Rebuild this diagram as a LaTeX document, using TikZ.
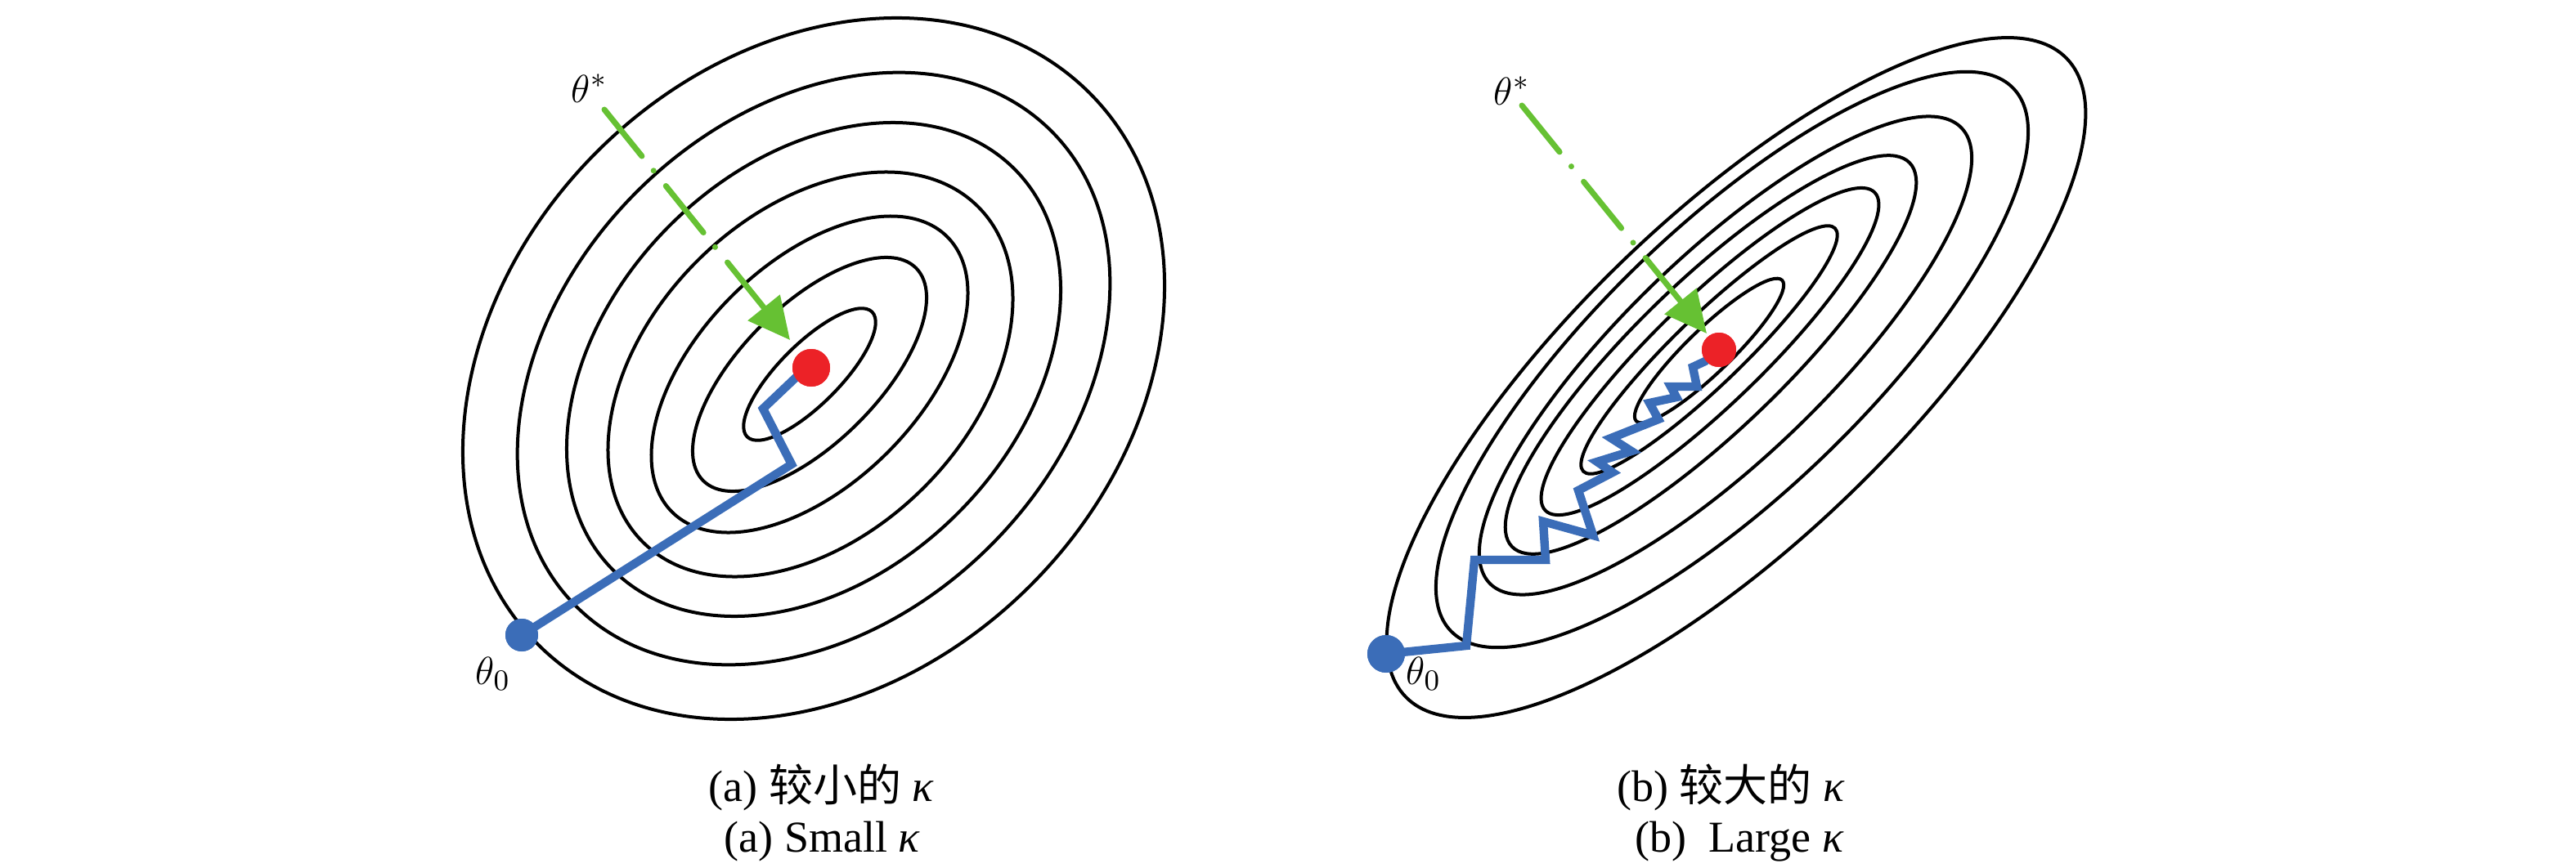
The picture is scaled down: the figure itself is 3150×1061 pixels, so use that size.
\documentclass[tikz,border=0pt]{standalone}
\usepackage{fontspec}
\setmainfont{Liberation Serif}
\newfontfamily\cjk{Noto Sans CJK SC}
\usetikzlibrary{arrows.meta}
\definecolor{pathblue}{RGB}{59,109,184}
\definecolor{optred}{RGB}{236,34,39}
\definecolor{arrgreen}{RGB}{102,193,51}
\begin{document}
\begin{tikzpicture}[x=0.25pt,y=-0.25pt,
  contour/.style={draw=black, line width=1pt},
  bluepath/.style={draw=pathblue, line width=2.6pt, line join=miter, line cap=round},
  startdot/.style={circle, fill=pathblue, inner sep=0pt, minimum size=#1},
  optdot/.style={circle, fill=optred, inner sep=0pt, minimum size=#1},
  lbl/.style={inner sep=0pt, anchor=base west, font=\fontsize{12.5}{15}\selectfont},
  captext/.style={inner sep=0pt, anchor=base, font=\fontsize{13.5}{16}\selectfont},
  garrow/.style={draw=arrgreen, line width=1.75pt, line cap=round,
    dash pattern=on 18.3pt off 5.7pt on 0.01pt off 6pt,
    -{Triangle[length=12.75pt,width=12.25pt]}}
]
\useasboundingbox (0,0) rectangle (3150,1061);

% ---------------- left panel: contours ----------------
\draw[contour, rotate around={45:(995,451)}] (995,451) ellipse [x radius=477, y radius=375];
\draw[contour, rotate around={45:(995,451)}] (995,451) ellipse [x radius=411, y radius=306];
\draw[contour, rotate around={45:(995,452)}] (995,452) ellipse [x radius=347, y radius=249];
\draw[contour, rotate around={45:(991,458)}] (991,458) ellipse [x radius=290, y radius=196];
\draw[contour, rotate around={45:(990,458)}] (990,458) ellipse [x radius=238, y radius=135];
\draw[contour, rotate around={45:(990,458)}] (990,458) ellipse [x radius=184, y radius=84];
\draw[contour, rotate around={45:(990,458)}] (990,458) ellipse [x radius=108, y radius=37];

% left path
\node[startdot=10pt] (startL) at (638,777) {};
\node[optdot=11.5pt] (optL) at (992,450) {};
\coordinate (l1) at (968,568);
\coordinate (l2) at (933,500);
\coordinate (l3) at (973,462);
\draw[bluepath] (startL.center) -- (l1) -- (l2) -- (l3) -- (optL.center);
\node[startdot=10pt] at (startL) {};
\node[optdot=11.5pt] at (optL) {};

% left labels and arrow
\node[lbl] (tsL) at (698,125) {$\theta^{*}$};
\node[lbl] (t0L) at (581,837) {$\theta_{0}$};
\coordinate (gsL) at (739,134);
\coordinate (gtL) at (966,416);
\draw[garrow] (gsL) -- (gtL);

% ---------------- right panel: contours ----------------
\draw[contour, rotate around={44:(2123,462)}] (2123,462) ellipse [x radius=562, y radius=199];
\draw[contour, rotate around={44:(2118,440)}] (2118,440) ellipse [x radius=478, y radius=163];
\draw[contour, rotate around={44:(2110,435)}] (2110,435) ellipse [x radius=401, y radius=124];
\draw[contour, rotate around={44:(2092,434)}] (2092,434) ellipse [x radius=338, y radius=91];
\draw[contour, rotate around={44:(2091,430)}] (2091,430) ellipse [x radius=280, y radius=65];
\draw[contour, rotate around={44:(2090,428)}] (2090,428) ellipse [x radius=214, y radius=42];
\draw[contour, rotate around={44:(2090,429)}] (2090,429) ellipse [x radius=124, y radius=27];

% right path
\node[startdot=11.5pt] (startR) at (1695,800) {};
\node[optdot=10.5pt] (optR) at (2102,428) {};
\coordinate (r1) at (1793,790);
\coordinate (r2) at (1803,685);
\coordinate (r3) at (1890,685);
\coordinate (r4) at (1887,638);
\coordinate (r5) at (1948,655);
\coordinate (r6) at (1930,600);
\coordinate (r7) at (1972,578);
\coordinate (r8) at (1953,565);
\coordinate (r9) at (1995,552);
\coordinate (r10) at (1970,536);
\coordinate (r11) at (2028,513);
\coordinate (r12) at (2017,493);
\coordinate (r13) at (2050,486);
\coordinate (r14) at (2043,473);
\coordinate (r15) at (2075,473);
\coordinate (r16) at (2070,449);
\coordinate (r17) at (2085,442);
\draw[bluepath] (startR.center) -- (r1) -- (r2) -- (r3) -- (r4) -- (r5) -- (r6)
  -- (r7) -- (r8) -- (r9) -- (r10) -- (r11) -- (r12) -- (r13) -- (r14)
  -- (r15) -- (r16) -- (r17) -- (optR.center);
\node[startdot=11.5pt] at (startR) {};
\node[optdot=10.5pt] at (optR) {};

% right labels and arrow
\node[lbl] (tsR) at (1826,128) {$\theta^{*}$};
\node[lbl] (t0R) at (1719,837) {$\theta_{0}$};
\coordinate (gsR) at (1861,129);
\coordinate (gtR) at (2087,408);
\draw[garrow] (gsR) -- (gtR);

% ---------------- captions ----------------
\node[captext] (capA1) at (1004,980) {(a) {\cjk 较小的} {\itshape κ}};
\node[captext] (capA2) at (1005,1042) {(a) Small {\itshape κ}};
\node[captext] (capB1) at (2116,980) {(b) {\cjk 较大的} {\itshape κ}};
\node[captext] (capB2) at (2127,1042) {(b)\ \ Large {\itshape κ}};
\end{tikzpicture}
\end{document}
